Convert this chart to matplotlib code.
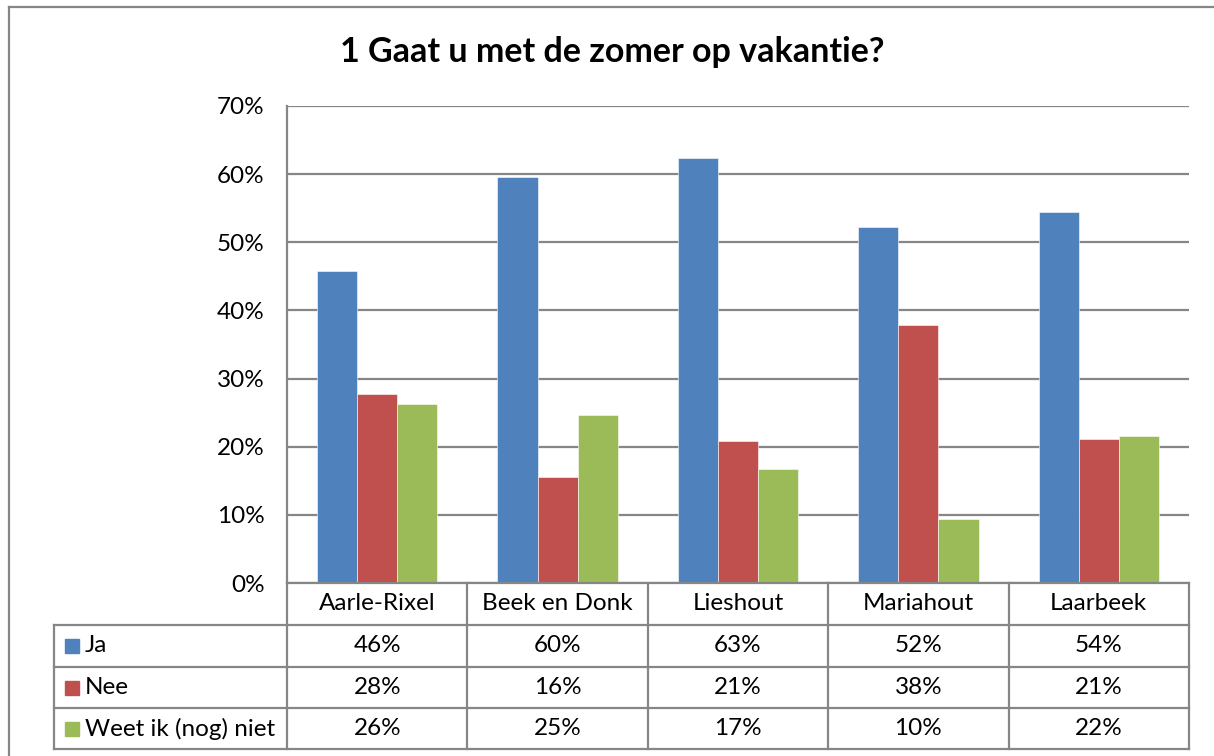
import numpy as np
import matplotlib.pyplot as plt
from matplotlib import transforms

plt.rcParams['font.family'] = ['Lato', 'DejaVu Sans']

# Data
categories = ['Aarle-Rixel', 'Beek en Donk', 'Lieshout', 'Mariahout', 'Laarbeek']
series = ['Ja', 'Nee', 'Weet ik (nog) niet']
ja = [45.8, 59.6, 62.4, 52.3, 54.5]
nee = [27.8, 15.6, 20.8, 37.9, 21.2]
weet = [26.2, 24.7, 16.7, 9.4, 21.5]
table_ja = ['46%', '60%', '63%', '52%', '54%']
table_nee = ['28%', '16%', '21%', '38%', '21%']
table_weet = ['26%', '25%', '17%', '10%', '22%']
colors = ['#4F81BD', '#C0504D', '#9BBB59']
grey = '#868686'
fs = 17.5

W, H = 1214, 756
fig = plt.figure(figsize=(W / 100, H / 100), dpi=100)

# plot area in pixels
x0, x1, y0, y1 = 287, 1189, 583, 106
ax = fig.add_axes([x0 / W, 1 - y0 / H, (x1 - x0) / W, (y0 - y1) / H])

values = [ja, nee, weet]
x = np.arange(len(categories))
bw = 1 / 4.5
for k, (vals, c) in enumerate(zip(values, colors)):
    ax.bar(x + (k - 1) * bw, vals, width=bw, color=c, edgecolor='white',
           linewidth=0.4, zorder=3)

ax.set_xlim(-0.5, len(categories) - 0.5)
ax.set_ylim(0, 70)
ax.set_yticks(np.arange(0, 71, 10))
ax.set_yticklabels([f'{v}%' for v in range(0, 71, 10)], fontsize=fs)
ax.tick_params(axis='y', length=0, pad=16)
ax.set_xticks([])
ax.grid(axis='y', color=grey, linewidth=1.6, zorder=0)
for s in ['top', 'right', 'bottom']:
    ax.spines[s].set_visible(False)
ax.spines['left'].set_color(grey)
ax.spines['left'].set_linewidth(1.6)

# data table below the axes
trans = transforms.blended_transform_factory(ax.transData, ax.transAxes)
ph = y0 - y1
rows_px = [583, 625, 667, 708, 749]
ry = [(y0 - r) / ph for r in rows_px]
left = -0.5 - (x0 - 54) / ((x1 - x0) / len(categories))
right = len(categories) - 0.5
lk = dict(color=grey, linewidth=1.6, clip_on=False, transform=trans, zorder=5)

# header row (category names)
ax.plot([-0.5, right], [ry[0], ry[0]], **lk)
for r in ry[1:]:
    ax.plot([left, right], [r, r], **lk)
ax.plot([left, left], [ry[1], ry[4]], **lk)
for b in np.arange(-0.5, right + 0.01, 1.0):
    ax.plot([b, b], [ry[0], ry[4]], **lk)

for i, cat in enumerate(categories):
    ax.text(i, (ry[0] + ry[1]) / 2, cat, ha='center', va='center',
            fontsize=fs, transform=trans)

table_rows = [table_ja, table_nee, table_weet]
for j, (name, row, c) in enumerate(zip(series, table_rows, colors)):
    yc = (ry[j + 1] + ry[j + 2]) / 2
    ax.plot([left + 0.1], [yc], marker='s', markersize=10.5, color=c,
            linestyle='none', clip_on=False, transform=trans)
    ax.text(left + 0.17, yc, name, ha='left', va='center', fontsize=fs,
            transform=trans)
    for i, v in enumerate(row):
        ax.text(i, yc, v, ha='center', va='center', fontsize=fs,
                transform=trans)

# outer chart border
fig.add_artist(plt.Line2D([9 / W, 9 / W], [0, 1 - 6.5 / H], color=grey,
                          linewidth=1.6, transform=fig.transFigure))
fig.add_artist(plt.Line2D([9 / W, 1], [1 - 6.5 / H, 1 - 6.5 / H], color=grey,
                          linewidth=1.6, transform=fig.transFigure))

fig.text(612 / W, 1 - 52 / H, '1 Gaat u met de zomer op vakantie?',
         ha='center', va='center', fontsize=24.5, fontweight='bold')

fig.savefig('out.png', dpi=100)
